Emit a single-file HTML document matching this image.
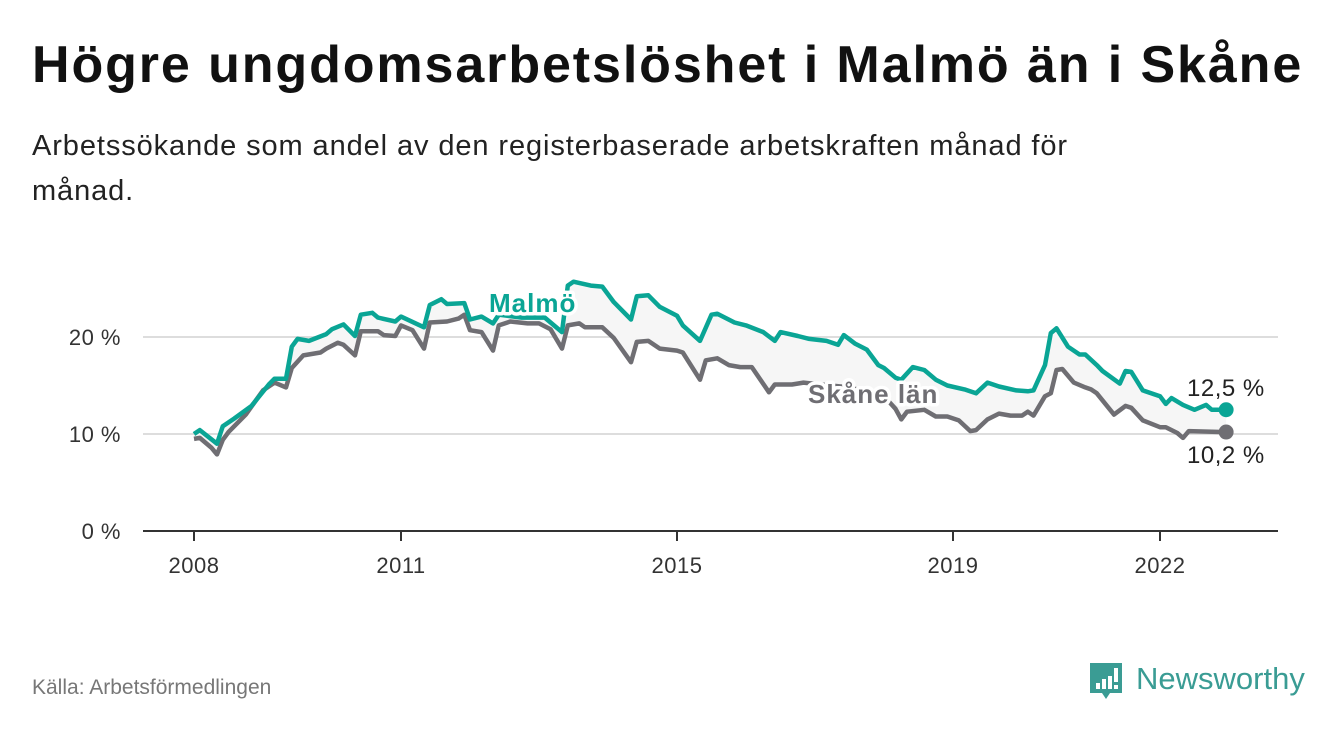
<!DOCTYPE html>
<html><head><meta charset="utf-8">
<style>
body{margin:0;width:1340px;height:734px;background:#fff;font-family:"Liberation Sans","DejaVu Sans",sans-serif;overflow:hidden;position:relative}
h1{position:absolute;left:32px;top:35px;margin:0;font-size:52px;font-weight:bold;color:#111;letter-spacing:1.9px;white-space:nowrap}
.sub{position:absolute;left:32px;top:124px;width:1120px;font-size:29px;letter-spacing:0.9px;line-height:45px;color:#222}
.src{position:absolute;left:32px;top:676px;font-size:21px;color:#777}
svg{position:absolute;left:0;top:0}
</style></head><body>
<h1>Högre ungdomsarbetslöshet i Malmö än i Skåne</h1>
<div class="sub">Arbetssökande som andel av den registerbaserade arbetskraften månad för månad.</div>
<div class="src">Källa: Arbetsförmedlingen</div>
<svg width="1340" height="734" id="chart">
 <g>
  <path d="M1090 663 h32 v30 h-12 l-4 6 l-4 -6 h-12 z" fill="#3a9c94"/>
  <rect x="1096" y="683" width="4" height="6" fill="#fff"/><rect x="1102" y="679" width="4" height="10" fill="#fff"/><rect x="1108" y="676" width="4" height="13" fill="#fff"/><rect x="1114" y="668" width="4" height="14" fill="#fff"/><rect x="1114" y="685" width="4" height="4" fill="#fff"/>
  <text x="1136" y="689" font-size="31" fill="#3a9c94" font-family="Liberation Sans, sans-serif">Newsworthy</text>
 </g>
</svg>
<script>
const yTicks=[0,10,20];
const xTickYears=[2008,2011,2015,2019,2022];
const malmoMonths=[0,1,4,5,7,10,13,14,16,17,18,20,23,24,26,28,29,31,32,35,36,40,41,43,44,47,48,50,52,53,57,61,64,65,66,69,71,73,76,77,79,81,84,85,88,90,91,94,96,99,101,102,105,107,110,112,113,115,117,119,120,122,123,125,127,129,131,134,136,138,140,143,145,146,148,149,150,152,154,155,157,158,161,162,163,165,168,169,170,172,174,176,177,179.5];
const malmoValues=[10.0,10.4,9.0,10.8,11.6,12.9,15.1,15.7,15.7,19.0,19.8,19.6,20.3,20.8,21.3,20.1,22.3,22.5,22.0,21.6,22.1,21.0,23.3,23.9,23.4,23.5,21.8,22.1,21.4,22.3,22.0,22.0,20.5,25.3,25.7,25.3,25.2,23.6,21.8,24.2,24.3,23.1,22.2,21.2,19.6,22.3,22.4,21.5,21.2,20.5,19.6,20.5,20.1,19.8,19.6,19.2,20.2,19.3,18.7,17.1,16.8,15.8,15.6,16.9,16.6,15.6,15.0,14.6,14.2,15.3,14.9,14.5,14.4,14.5,17.1,20.4,20.9,19.0,18.2,18.2,17.1,16.5,15.2,16.5,16.4,14.5,13.9,13.1,13.7,13.0,12.5,13.0,12.5,12.5];
const skaneMonths=[0,1,3,4,5,6,9,12,14,16,17,19,22,23,25,26,28,29,32,33,35,36,38,40,41,44,46,47,48,50,52,53,55,58,60,62,64,65,67,68,71,73,76,77,79,81,84,85,88,89,91,93,95,97,100,101,104,106,109,114,118,120,122,123,124,127,129,131,133,135,136,138,140,142,144,145,146,148,149,150,151,153,155,156,157,160,162,163,165,168,169,171,172,173,179.5];
const skaneValues=[9.5,9.6,8.6,7.9,9.4,10.2,12.0,14.5,15.3,14.8,16.8,18.1,18.4,18.8,19.4,19.2,18.1,20.6,20.6,20.2,20.1,21.2,20.7,18.8,21.5,21.6,21.9,22.3,20.7,20.5,18.6,21.2,21.6,21.4,21.4,20.8,18.8,21.2,21.4,21.0,21.0,19.9,17.4,19.5,19.6,18.8,18.6,18.4,15.6,17.6,17.8,17.1,16.9,16.9,14.3,15.1,15.1,15.3,15.1,14.8,14.2,13.9,12.6,11.5,12.3,12.5,11.8,11.8,11.4,10.3,10.4,11.5,12.1,11.9,11.9,12.3,11.9,13.9,14.2,16.6,16.7,15.3,14.8,14.6,14.2,12.0,12.9,12.7,11.4,10.7,10.7,10.1,9.6,10.3,10.2];
const svg=document.getElementById('chart');const NS='http://www.w3.org/2000/svg';
const xS=m=>194+m*69/12;const yS=v=>531-v*9.7;
function mk(t,a,p){const e=document.createElementNS(NS,t);for(const k in a)e.setAttribute(k,a[k]);(p||svg).appendChild(e);return e;}
yTicks.forEach(v=>{
 if(v>0){const g=mk('line',{x1:143,x2:1278,y1:yS(v),y2:yS(v),stroke:'#ddd','stroke-width':2});
 
 }
 const t=mk('text',{x:121,y:yS(v)+8,'text-anchor':'end','font-size':22,'letter-spacing':0.5,fill:'#333'});t.textContent=v+' %';
 
 
});
xTickYears.forEach(y=>{const x=xS((y-2008)*12);
 const l=mk('line',{x1:x,x2:x,y1:531,y2:541,stroke:'#333','stroke-width':2});
 
 
 const t=mk('text',{x:x,y:573,'text-anchor':'middle','font-size':22,'letter-spacing':0.5,fill:'#333'});t.textContent=y;
 
 
});
const pts=(ms,vs)=>ms.map((m,i)=>xS(m).toFixed(1)+','+yS(vs[i]).toFixed(1));
const mp=pts(malmoMonths,malmoValues),sp=pts(skaneMonths,skaneValues);
const area=mk('polygon',{points:mp.concat(sp.slice().reverse()).join(' '),fill:'#f6f6f6'});


const base=mk('line',{x1:143,x2:1278,y1:531,y2:531,stroke:'#333','stroke-width':2});


const sl=mk('polyline',{points:sp.join(' '),fill:'none',stroke:'#6f6e73','stroke-width':4.5,'stroke-linejoin':'round'});


const ml=mk('polyline',{points:mp.join(' '),fill:'none',stroke:'#0aa595','stroke-width':4.5,'stroke-linejoin':'round'});


function lbl(txt,x,y,c,name,bold,fs,ls){const t=mk('text',{x:x,y:y,'font-size':fs,'letter-spacing':ls,'font-weight':bold?'bold':'normal',fill:c,stroke:'#fff','stroke-width':7,'paint-order':'stroke','stroke-linejoin':'round'});t.textContent=txt;
 
 }
lbl('Malmö',489,312,'#0aa595','malmo-label',true,26,1);
lbl('Skåne län',808,403,'#6f6e73','skane-label',true,26,1);
const lm=malmoMonths.length-1,ls=skaneMonths.length-1;
const d1=mk('circle',{cx:xS(malmoMonths[lm]),cy:yS(malmoValues[lm]),r:7.5,fill:'#0aa595'});


const d2=mk('circle',{cx:xS(skaneMonths[ls]),cy:yS(skaneValues[ls]),r:7.5,fill:'#6f6e73'});


lbl(malmoValues[lm].toFixed(1).replace('.',',')+' %',1187,396,'#222','malmo-end-value',false,24,0.5);
lbl(skaneValues[ls].toFixed(1).replace('.',',')+' %',1187,463,'#222','skane-end-value',false,24,0.5);
</script>
</body></html>
